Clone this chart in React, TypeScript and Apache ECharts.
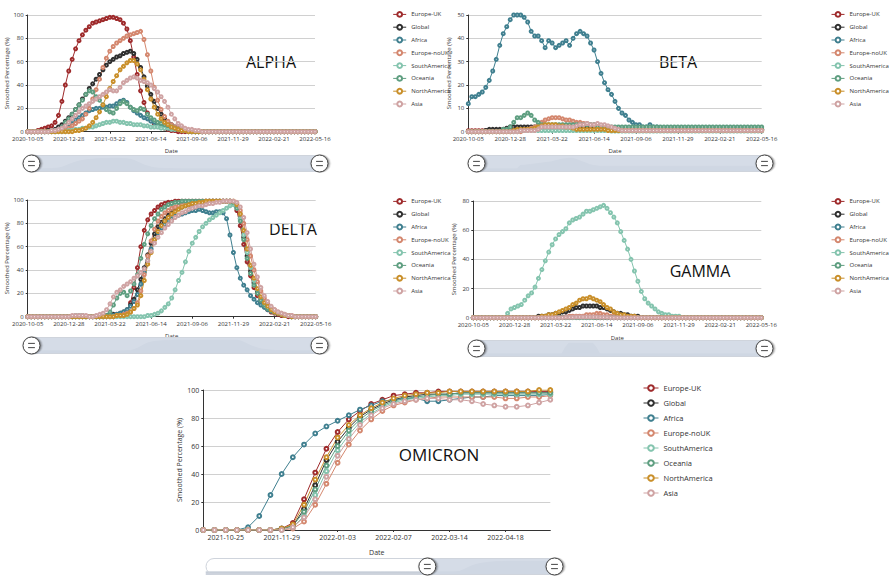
import React, { useEffect, useRef } from "react";
import * as echarts from "echarts";

const FONT = "'Open Sans', 'Noto Sans', sans-serif";

const regions = ["Europe-UK", "Global", "Africa", "Europe-noUK", "SouthAmerica", "Oceania", "NorthAmerica", "Asia"];
const regionColors = ["#9e2a2b", "#2f2f2f", "#3f7f8f", "#d4876e", "#84c4ae", "#5e9e80", "#c98f2a", "#cfa3a3"];

// weekly categories 2020-10-05 .. 2022-05-16
const dates: string[] = [];
for (let i = 0; i < 85; i++) {
  dates.push(new Date(Date.UTC(2020, 9, 5) + i * 7 * 86400000).toISOString().slice(0, 10));
}

// ---------------- ALPHA ----------------
const alphaEuropeUK = [
  0, 0, 0, 1, 2, 3, 4, 5, 8, 14,
  26, 40, 52, 62, 71, 78, 83, 87, 90, 93,
  94, 95, 96, 97, 98, 98, 97, 96, 93, 88,
  78, 64, 49, 35, 25, 16, 10, 7, 5, 4,
  3, 2, 1, 1, 0, 0, 0, 0, 0, 0,
  0, 0, 0, 0, 0, 0, 0, 0, 0, 0,
  0, 0, 0, 0, 0, 0, 0, 0, 0, 0,
  0, 0, 0, 0, 0, 0, 0, 0, 0, 0,
  0, 0, 0, 0, 0];
const alphaGlobal = [
  0, 0, 0, 0, 0, 0, 1, 1, 2, 4,
  6, 9, 12, 15, 19, 23, 28, 32, 37, 41,
  45, 49, 53, 57, 60, 62, 64, 65, 67, 68,
  69, 67, 62, 55, 47, 39, 32, 26, 20, 15,
  11, 8, 6, 4, 3, 2, 2, 1, 1, 0,
  0, 0, 0, 0, 0, 0, 0, 0, 0, 0,
  0, 0, 0, 0, 0, 0, 0, 0, 0, 0,
  0, 0, 0, 0, 0, 0, 0, 0, 0, 0,
  0, 0, 0, 0, 0];
const alphaAfrica = [
  0, 0, 0, 0, 0, 0, 0, 0, 0, 1,
  1, 2, 4, 7, 10, 12, 14, 16, 18, 19,
  20, 20, 21, 21, 22, 22, 24, 26, 27, 25,
  21, 18, 16, 14, 12, 11, 9, 8, 6, 5,
  4, 3, 3, 2, 2, 1, 1, 0, 0, 0,
  0, 0, 0, 0, 0, 0, 0, 0, 0, 0,
  0, 0, 0, 0, 0, 0, 0, 0, 0, 0,
  0, 0, 0, 0, 0, 0, 0, 0, 0, 0,
  0, 0, 0, 0, 0];
const alphaEuropeNoUK = [
  0, 0, 0, 0, 0, 0, 0, 0, 0, 1,
  1, 2, 3, 5, 7, 9, 11, 15, 20, 28,
  36, 45, 55, 63, 69, 73, 76, 78, 80, 82,
  83, 84, 85, 86, 79, 66, 52, 38, 27, 19,
  13, 9, 6, 4, 3, 2, 2, 1, 1, 0,
  0, 0, 0, 0, 0, 0, 0, 0, 0, 0,
  0, 0, 0, 0, 0, 0, 0, 0, 0, 0,
  0, 0, 0, 0, 0, 0, 0, 0, 0, 0,
  0, 0, 0, 0, 0];
const alphaSouthAmerica = [
  0, 0, 0, 0, 0, 0, 0, 0, 0, 0,
  0, 0, 1, 1, 2, 2, 3, 3, 4, 4,
  5, 6, 7, 8, 8, 9, 9, 8, 8, 7,
  7, 6, 6, 6, 5, 5, 4, 4, 4, 3,
  3, 3, 2, 2, 2, 1, 1, 1, 0, 0,
  0, 0, 0, 0, 0, 0, 0, 0, 0, 0,
  0, 0, 0, 0, 0, 0, 0, 0, 0, 0,
  0, 0, 0, 0, 0, 0, 0, 0, 0, 0,
  0, 0, 0, 0, 0];
const alphaOceania = [
  0, 0, 0, 0, 0, 0, 0, 1, 1, 2,
  4, 8, 11, 15, 19, 23, 27, 32, 35, 34,
  30, 27, 23, 19, 17, 16, 20, 24, 26, 24,
  21, 19, 18, 20, 19, 15, 12, 10, 8, 7,
  6, 5, 4, 3, 2, 2, 1, 1, 0, 0,
  0, 0, 0, 0, 0, 0, 0, 0, 0, 0,
  0, 0, 0, 0, 0, 0, 0, 0, 0, 0,
  0, 0, 0, 0, 0, 0, 0, 0, 0, 0,
  0, 0, 0, 0, 0];
const alphaNorthAmerica = [
  0, 0, 0, 0, 0, 0, 0, 0, 0, 0,
  0, 0, 0, 0, 1, 1, 2, 3, 5, 8,
  12, 17, 23, 30, 37, 43, 48, 53, 56, 59,
  61, 61, 58, 53, 45, 36, 28, 21, 15, 11,
  8, 6, 4, 3, 2, 1, 1, 0, 0, 0,
  0, 0, 0, 0, 0, 0, 0, 0, 0, 0,
  0, 0, 0, 0, 0, 0, 0, 0, 0, 0,
  0, 0, 0, 0, 0, 0, 0, 0, 0, 0,
  0, 0, 0, 0, 0];
const alphaAsia = [
  0, 0, 0, 0, 0, 0, 0, 1, 1, 2,
  3, 5, 8, 11, 14, 17, 20, 22, 24, 26,
  28, 30, 32, 34, 36, 35, 35, 38, 42, 44,
  46, 47, 46, 44, 43, 42, 40, 37, 34, 30,
  26, 21, 15, 11, 7, 5, 3, 2, 2, 1,
  1, 0, 0, 0, 0, 0, 0, 0, 0, 0,
  0, 0, 0, 0, 0, 0, 0, 0, 0, 0,
  0, 0, 0, 0, 0, 0, 0, 0, 0, 0,
  0, 0, 0, 0, 0];

// ---------------- BETA ----------------
const betaEuropeUK = [
  0.4, 0.4, 0.4, 0.4, 0.4, 0.4, 0.4, 0.4, 0.4, 0.4,
  0.4, 0.4, 0.4, 1.2, 1.2, 1.3, 1.4, 1.5, 1.6, 1.7,
  1.8, 1.9, 2, 2.2, 2.4, 2.6, 2.7, 2.8, 2.8, 2.6,
  2.3, 2, 1.7, 1.4, 1.2, 1.1, 1, 1, 1, 1,
  1, 1, 1, 1, 1, 1, 1, 1, 1, 1,
  1, 1, 1, 1, 1, 1, 1, 1, 1, 1,
  1, 1, 1, 1, 1, 1, 1, 1, 1, 1,
  1, 1, 1, 1, 1, 1, 1, 1, 1, 1,
  1, 1, 1, 1, 1];
const betaGlobal = [
  0, 0, 0, 0, 0, 0.5, 1, 1, 1, 1,
  1, 1.5, 2, 2, 2, 2, 2, 2, 2, 2,
  2, 2, 2, 2, 2, 2, 2, 2, 2, 2,
  2, 2, 2, 2, 2, 1.8, 1.6, 1.5, 1.4, 1.3,
  1.2, 1.1, 1, 1, 1, 1, 1, 1, 1, 1,
  1, 1, 1, 1, 1, 1, 1, 1, 1, 1,
  1, 1, 1, 1, 1, 1, 1, 1, 1, 1,
  1, 1, 1, 1, 1, 1, 1, 1, 1, 1,
  1, 1, 1, 1, 1];
const betaAfrica = [
  12, 15, 15, 16, 17, 19, 22, 26, 31, 37,
  42, 45, 48, 50, 50, 50, 49, 47, 43, 41,
  41, 39, 36, 39, 38, 36, 37, 38, 39, 37,
  40, 42, 43, 42, 41, 38, 35, 30, 25, 21,
  18, 16, 13, 10, 8, 7, 5, 4, 3, 3,
  2, 2, 3, 2, 2, 1, 1, 1, 1, 1,
  1, 1, 1, 1, 1, 1, 1, 1, 1, 1,
  1, 1, 1, 1, 1, 1, 1, 1, 1, 1,
  1, 1, 1, 1, 1];
const betaEuropeNoUK = [
  0, 0, 0, 0, 0, 0, 0, 0, 0, 0,
  0, 0, 0, 0, 0, 0, 0.5, 1, 1.5, 2,
  3, 4, 5, 5.5, 6, 6, 6, 5.5, 5, 5,
  4.5, 4, 4, 3.5, 3.5, 3, 3, 3, 2.5, 2,
  2, 1.5, 1, 1, 0.5, 0.5, 0.5, 0.5, 0.5, 0.5,
  0.5, 0.5, 0.5, 0.5, 0.5, 0.5, 0.5, 0.5, 0.5, 0.5,
  0.5, 0.5, 0.5, 0.5, 0.5, 0.5, 0.5, 0.5, 0.5, 0.5,
  0.5, 0.5, 0.5, 0.5, 0.5, 0.5, 0.5, 0.5, 0.5, 0.5,
  0.5, 0.5, 0.5, 0.5, 0.5];
const betaSouthAmerica = [
  0, 0, 0, 0, 0, 0, 0, 0, 0, 0,
  0, 0, 0, 0, 0, 0.5, 0.5, 0.5, 0.5, 0.5,
  0.5, 0.5, 0.5, 0.5, 0.5, 0.5, 0.5, 0.5, 0.5, 0.5,
  0.5, 0.5, 0.5, 0.5, 0.5, 0.5, 0.5, 0.5, 0.5, 0.5,
  0.5, 0.3, 0.3, 0.3, 0.3, 0.3, 0.3, 0.3, 0.3, 0.3,
  0.3, 0.3, 0.3, 0.3, 0.3, 0.3, 0.3, 0.3, 0.3, 0.3,
  0.3, 0.3, 0.3, 0.3, 0.3, 0.3, 0.3, 0.3, 0.3, 0.3,
  0.3, 0.3, 0.3, 0.3, 0.3, 0.3, 0.3, 0.3, 0.3, 0.3,
  0.3, 0.3, 0.3, 0.3, 0.3];
const betaOceania = [
  0, 0, 0, 0, 0, 0, 0, 0, 0, 0,
  1, 1, 2, 4, 6, 6, 7, 8, 7, 5,
  4, 3, 3, 3, 3, 3, 3, 3, 3, 3,
  3, 3, 3, 3, 3, 3, 3, 2, 2, 2,
  2, 2, 2, 2, 2, 2, 2, 2, 2, 2,
  2, 2, 2, 2, 2, 2, 2, 2, 2, 2,
  2, 2, 2, 2, 2, 2, 2, 2, 2, 2,
  2, 2, 2, 2, 2, 2, 2, 2, 2, 2,
  2, 2, 2, 2, 2];
const betaNorthAmerica = [
  0, 0, 0, 0, 0, 0, 0, 0, 0, 0,
  0, 0, 0, 0.5, 1, 1, 1, 1, 1, 1.5,
  2, 2.5, 3, 3, 3, 3, 2.5, 2.5, 2, 2,
  1.5, 1, 1, 1, 1, 1, 1, 1, 1, 1,
  0.5, 0.5, 0.5, 0.5, 0.5, 0.5, 0.5, 0.5, 0.5, 0.5,
  0.5, 0.5, 0.5, 0.5, 0.5, 0.5, 0.5, 0.5, 0.5, 0.5,
  0.5, 0.5, 0.5, 0.5, 0.5, 0.5, 0.5, 0.5, 0.5, 0.5,
  0.5, 0.5, 0.5, 0.5, 0.5, 0.5, 0.5, 0.5, 0.5, 0.5,
  0.5, 0.5, 0.5, 0.5, 0.5];
const betaAsia = [
  0, 0, 0, 0, 0, 0, 0, 0, 0, 0,
  0, 0, 0, 0, 0, 0.5, 0.5, 0.5, 0.5, 0.5,
  1, 2, 2, 2, 2, 2, 2, 2, 2, 2,
  2, 2.5, 3, 3, 3.5, 3, 3, 3.5, 3, 3,
  2.5, 2, 1.5, 1, 0.5, 0.5, 0.5, 0.5, 0.5, 0.5,
  0.5, 0.5, 0.5, 0.5, 0.5, 0.5, 0.5, 0.5, 0.5, 0.5,
  0.5, 0.5, 0.5, 0.5, 0.5, 0.5, 0.5, 0.5, 0.5, 0.5,
  0.5, 0.5, 0.5, 0.5, 0.5, 0.5, 0.5, 0.5, 0.5, 0.5,
  0.5, 0.5, 0.5, 0.5, 0.5];

// ---------------- DELTA ----------------
const deltaEuropeUK = [
  0, 0, 0, 0, 0, 0, 0, 0, 0, 0,
  0, 0, 0, 0, 0, 0, 0, 0, 0, 0,
  0, 0, 0, 0, 0, 0, 1, 1, 2, 4,
  12, 25, 42, 60, 74, 83, 88, 91, 94, 96,
  97, 98, 98, 99, 99, 99, 99, 99, 99, 99,
  99, 99, 99, 99, 99, 99, 99, 99, 99, 99,
  98, 91, 78, 62, 47, 35, 25, 18, 13, 9,
  6, 4, 3, 2, 1, 1, 0, 0, 0, 0,
  0, 0, 0, 0, 0];
const deltaGlobal = [
  0, 0, 0, 0, 0, 0, 0, 0, 0, 0,
  0, 0, 0, 0, 0, 0, 0, 0, 0, 0,
  0, 0, 1, 1, 1, 2, 2, 3, 4, 6,
  10, 15, 23, 32, 42, 53, 63, 71, 77, 81,
  84, 87, 89, 91, 93, 94, 95, 96, 97, 97,
  98, 98, 98, 99, 99, 99, 99, 99, 99, 99,
  98, 94, 84, 68, 52, 39, 29, 21, 15, 11,
  8, 6, 4, 3, 2, 1, 1, 0, 0, 0,
  0, 0, 0, 0, 0];
const deltaAfrica = [
  0, 0, 0, 0, 0, 0, 0, 0, 0, 0,
  0, 0, 0, 0, 0, 0, 0, 0, 0, 0,
  0, 0, 0, 0, 1, 1, 2, 3, 4, 6,
  9, 13, 19, 28, 38, 48, 58, 66, 72, 76,
  79, 82, 84, 86, 87, 88, 89, 90, 91, 91,
  92, 91, 90, 89, 89, 90, 90, 89, 84, 70,
  55, 42, 33, 27, 23, 18, 15, 12, 10, 8,
  6, 5, 4, 3, 2, 1, 1, 0, 0, 0,
  0, 0, 0, 0, 0];
const deltaEuropeNoUK = [
  0, 0, 0, 0, 0, 0, 0, 0, 0, 0,
  0, 0, 0, 0, 0, 0, 0, 0, 0, 0,
  0, 0, 0, 0, 0, 0, 1, 1, 2, 3,
  4, 7, 12, 22, 36, 52, 65, 75, 82, 86,
  89, 91, 93, 94, 95, 96, 97, 97, 98, 98,
  98, 99, 99, 99, 99, 99, 99, 99, 99, 99,
  99, 97, 91, 80, 66, 52, 40, 30, 22, 16,
  11, 8, 6, 4, 3, 2, 1, 1, 0, 0,
  0, 0, 0, 0, 0];
const deltaSouthAmerica = [
  0, 0, 0, 0, 0, 0, 0, 0, 0, 0,
  0, 0, 0, 0, 0, 0, 0, 0, 0, 0,
  0, 0, 0, 0, 0, 0, 0, 0, 0, 0,
  0, 0, 0, 0, 0, 1, 1, 2, 3, 5,
  8, 11, 16, 23, 31, 38, 47, 56, 63, 68,
  73, 77, 80, 83, 85, 87, 89, 91, 93, 95,
  96, 93, 84, 70, 55, 42, 31, 23, 16, 11,
  8, 6, 4, 3, 2, 1, 1, 0, 0, 0,
  0, 0, 0, 0, 0];
const deltaOceania = [
  0, 0, 0, 0, 0, 0, 0, 0, 0, 0,
  0, 0, 0, 0, 1, 1, 1, 0, 0, 0,
  0, 0, 0, 1, 4, 10, 16, 20, 21, 18,
  22, 28, 36, 50, 62, 71, 78, 84, 88, 92,
  94, 96, 97, 98, 98, 99, 99, 99, 99, 99,
  99, 99, 99, 99, 99, 99, 99, 99, 99, 99,
  98, 93, 82, 66, 50, 37, 27, 20, 14, 10,
  7, 5, 4, 3, 2, 1, 1, 0, 0, 0,
  0, 0, 0, 0, 0];
const deltaNorthAmerica = [
  0, 0, 0, 0, 0, 0, 0, 0, 0, 0,
  0, 0, 0, 0, 0, 0, 0, 0, 0, 0,
  0, 0, 0, 0, 0, 0, 1, 1, 1, 2,
  4, 7, 10, 18, 31, 45, 55, 66, 73, 78,
  82, 85, 88, 90, 92, 94, 95, 96, 97, 97,
  98, 98, 99, 99, 99, 99, 99, 99, 99, 99,
  99, 96, 88, 74, 58, 44, 33, 24, 17, 12,
  9, 6, 4, 3, 2, 1, 1, 0, 0, 0,
  0, 0, 0, 0, 0];
const deltaAsia = [
  0, 0, 0, 0, 0, 0, 0, 0, 0, 0,
  0, 0, 0, 1, 1, 1, 1, 1, 0, 0,
  1, 2, 3, 6, 11, 17, 21, 23, 26, 28,
  30, 33, 35, 38, 41, 48, 56, 63, 68, 72,
  76, 79, 82, 85, 87, 89, 90, 92, 93, 94,
  95, 95, 96, 97, 97, 98, 98, 99, 99, 99,
  99, 98, 94, 85, 72, 58, 45, 34, 25, 18,
  13, 9, 6, 4, 3, 2, 1, 1, 0, 0,
  0, 0, 0, 0, 0];

// ---------------- GAMMA ----------------
const gammaEuropeUK = [
  0, 0, 0, 0, 0, 0, 0, 0, 0, 0,
  0, 0, 0, 0, 0, 0, 0, 0, 0, 0,
  0, 0, 0, 0, 0, 0, 0.3, 0.5, 0.5, 0.5,
  0.5, 0.5, 0.5, 0.5, 0.5, 0.3, 0, 0, 0, 0,
  0, 0, 0, 0, 0, 0, 0, 0, 0, 0,
  0, 0, 0, 0, 0, 0, 0, 0, 0, 0,
  0, 0, 0, 0, 0, 0, 0, 0, 0, 0,
  0, 0, 0, 0, 0, 0, 0, 0, 0, 0,
  0, 0, 0, 0, 0];
const gammaGlobal = [
  0, 0, 0, 0, 0, 0, 0, 0, 0, 0,
  0, 0, 0, 0, 0, 0, 0, 0, 0, 1,
  1, 1, 2, 2, 3, 3, 4, 4, 5, 6,
  7, 7, 8, 8, 8, 8, 8, 7, 7, 6,
  5, 4, 3, 3, 2, 2, 1, 1, 1, 0,
  0, 0, 0, 0, 0, 0, 0, 0, 0, 0,
  0, 0, 0, 0, 0, 0, 0, 0, 0, 0,
  0, 0, 0, 0, 0, 0, 0, 0, 0, 0,
  0, 0, 0, 0, 0];
const gammaAfrica = [
  0, 0, 0, 0, 0, 0, 0, 0, 0, 0,
  0, 0, 0, 0, 0, 0, 0, 0, 0, 0,
  0, 0, 0, 0, 0, 0, 0.3, 0.3, 0.5, 0.5,
  0.5, 0.5, 0.5, 0.5, 0.5, 0.5, 0.5, 0.5, 0.3, 0.3,
  0, 0, 0, 0, 0, 0, 0, 0, 0, 0,
  0, 0, 0, 0, 0, 0, 0, 0, 0, 0,
  0, 0, 0, 0, 0, 0, 0, 0, 0, 0,
  0, 0, 0, 0, 0, 0, 0, 0, 0, 0,
  0, 0, 0, 0, 0];
const gammaEuropeNoUK = [
  0, 0, 0, 0, 0, 0, 0, 0, 0, 0,
  0, 0, 0, 0, 0, 0, 0, 0, 0, 0,
  0, 0, 0, 0, 0, 0, 0, 0, 1, 1,
  1, 1, 1, 2, 2, 2, 3, 3, 2, 2,
  1, 1, 0, 0, 0, 0, 0, 0, 0, 0,
  0, 0, 0, 0, 0, 0, 0, 0, 0, 0,
  0, 0, 0, 0, 0, 0, 0, 0, 0, 0,
  0, 0, 0, 0, 0, 0, 0, 0, 0, 0,
  0, 0, 0, 0, 0];
const gammaSouthAmerica = [
  0, 0, 0, 0, 0, 0, 0, 0, 0, 0,
  3, 6, 7, 8, 9, 12, 15, 17, 21, 27,
  33, 39, 45, 50, 54, 57, 59, 61, 65, 67,
  68, 69, 71, 73, 73, 74, 75, 76, 77, 75,
  72, 69, 65, 59, 53, 47, 40, 32, 25, 18,
  13, 10, 8, 6, 4, 3, 2, 2, 1, 1,
  1, 0, 0, 0, 0, 0, 0, 0, 0, 0,
  0, 0, 0, 0, 0, 0, 0, 0, 0, 0,
  0, 0, 0, 0, 0];
const gammaOceania = [
  0, 0, 0, 0, 0, 0, 0, 0, 0, 0,
  0, 0, 0, 0, 0, 0, 0, 0, 0, 0,
  0, 0, 0, 0, 0, 0, 0, 0, 0, 0,
  0, 0, 0, 0, 0, 0, 0, 0, 0, 0,
  0, 0, 0, 0, 0, 0, 0, 0, 0, 0,
  0, 0, 0, 0, 0, 0, 0, 0, 0, 0,
  0, 0, 0, 0, 0, 0, 0, 0, 0, 0,
  0, 0, 0, 0, 0, 0, 0, 0, 0, 0,
  0, 0, 0, 0, 0];
const gammaNorthAmerica = [
  0, 0, 0, 0, 0, 0, 0, 0, 0, 0,
  0, 0, 0, 0, 0, 0, 0, 0, 0, 0,
  1, 1, 2, 2, 3, 4, 5, 6, 7, 9,
  10, 12, 13, 13, 14, 13, 12, 11, 9, 7,
  6, 4, 3, 2, 2, 1, 1, 1, 0, 0,
  0, 0, 0, 0, 0, 0, 0, 0, 0, 0,
  0, 0, 0, 0, 0, 0, 0, 0, 0, 0,
  0, 0, 0, 0, 0, 0, 0, 0, 0, 0,
  0, 0, 0, 0, 0];
const gammaAsia = [
  0, 0, 0, 0, 0, 0, 0, 0, 0, 0,
  0, 0, 0, 0, 0, 0, 0, 0, 0, 0,
  0, 0, 0, 0, 0, 0, 0, 0.3, 0.3, 0.3,
  0.5, 0.5, 0.5, 0.5, 0.5, 0.5, 0.5, 0.3, 0.3, 0.3,
  0, 0, 0, 0, 0, 0, 0, 0, 0, 0,
  0, 0, 0, 0, 0, 0, 0, 0, 0, 0,
  0, 0, 0, 0, 0, 0, 0, 0, 0, 0,
  0, 0, 0, 0, 0, 0, 0, 0, 0, 0,
  0, 0, 0, 0, 0];

// ---------------- OMICRON ----------------
const omicronEuropeUK = [
  0, 0, 0, 0, 0, 0, 0, 0, 0, 0,
  0, 0, 0, 0, 0, 0, 0, 0, 0, 0,
  0, 0, 0, 0, 0, 0, 0, 0, 0, 0,
  0, 0, 0, 0, 0, 0, 0, 0, 0, 0,
  0, 0, 0, 0, 0, 0, 0, 0, 0, 0,
  0, 0, 0, 0, 0, 0, 0, 0, 0, 0,
  1, 5, 22, 41, 58, 70, 79, 85, 90, 93,
  96, 97, 98, 98, 99, 99, 99, 99, 99, 99,
  99, 99, 99, 99, 99];
const omicronGlobal = [
  0, 0, 0, 0, 0, 0, 0, 0, 0, 0,
  0, 0, 0, 0, 0, 0, 0, 0, 0, 0,
  0, 0, 0, 0, 0, 0, 0, 0, 0, 0,
  0, 0, 0, 0, 0, 0, 0, 0, 0, 0,
  0, 0, 0, 0, 0, 0, 0, 0, 0, 0,
  0, 0, 0, 0, 0, 0, 0, 0, 0, 0,
  1, 3, 15, 32, 50, 63, 73, 81, 86, 90,
  93, 95, 96, 97, 97, 97, 98, 98, 98, 98,
  98, 98, 98, 98, 98];
const omicronAfrica = [
  0, 0, 0, 0, 0, 0, 0, 0, 0, 0,
  0, 0, 0, 0, 0, 0, 0, 0, 0, 0,
  0, 0, 0, 0, 0, 0, 0, 0, 0, 0,
  0, 0, 0, 0, 0, 0, 0, 0, 0, 0,
  0, 0, 0, 0, 0, 0, 0, 0, 0, 0,
  0, 0, 0, 0, 0, 0, 0, 2, 10, 25,
  40, 52, 61, 69, 74, 78, 82, 86, 89, 92,
  93, 94, 94, 92, 92, 93, 94, 95, 95, 96,
  96, 96, 96, 96, 97];
const omicronEuropeNoUK = [
  0, 0, 0, 0, 0, 0, 0, 0, 0, 0,
  0, 0, 0, 0, 0, 0, 0, 0, 0, 0,
  0, 0, 0, 0, 0, 0, 0, 0, 0, 0,
  0, 0, 0, 0, 0, 0, 0, 0, 0, 0,
  0, 0, 0, 0, 0, 0, 0, 0, 0, 0,
  0, 0, 0, 0, 0, 0, 0, 0, 0, 0,
  0, 1, 6, 18, 33, 48, 61, 71, 79, 85,
  89, 91, 93, 94, 95, 95, 95, 95, 95, 95,
  94, 94, 95, 95, 96];
const omicronSouthAmerica = [
  0, 0, 0, 0, 0, 0, 0, 0, 0, 0,
  0, 0, 0, 0, 0, 0, 0, 0, 0, 0,
  0, 0, 0, 0, 0, 0, 0, 0, 0, 0,
  0, 0, 0, 0, 0, 0, 0, 0, 0, 0,
  0, 0, 0, 0, 0, 0, 0, 0, 0, 0,
  0, 0, 0, 0, 0, 0, 0, 0, 0, 0,
  0, 2, 10, 25, 42, 57, 68, 77, 83, 88,
  91, 93, 94, 95, 96, 96, 97, 97, 97, 97,
  97, 97, 97, 97, 97];
const omicronOceania = [
  0, 0, 0, 0, 0, 0, 0, 0, 0, 0,
  0, 0, 0, 0, 0, 0, 0, 0, 0, 0,
  0, 0, 0, 0, 0, 0, 0, 0, 0, 0,
  0, 0, 0, 0, 0, 0, 0, 0, 0, 0,
  0, 0, 0, 0, 0, 0, 0, 0, 0, 0,
  0, 0, 0, 0, 0, 0, 0, 0, 0, 0,
  1, 3, 13, 29, 46, 60, 71, 79, 85, 89,
  92, 94, 95, 96, 97, 97, 98, 98, 98, 98,
  98, 98, 98, 98, 98];
const omicronNorthAmerica = [
  0, 0, 0, 0, 0, 0, 0, 0, 0, 0,
  0, 0, 0, 0, 0, 0, 0, 0, 0, 0,
  0, 0, 0, 0, 0, 0, 0, 0, 0, 0,
  0, 0, 0, 0, 0, 0, 0, 0, 0, 0,
  0, 0, 0, 0, 0, 0, 0, 0, 0, 0,
  0, 0, 0, 0, 0, 0, 0, 0, 0, 0,
  1, 4, 18, 36, 52, 66, 75, 82, 87, 91,
  94, 96, 97, 98, 98, 99, 99, 99, 99, 99,
  99, 99, 99, 100, 100];
const omicronAsia = [
  0, 0, 0, 0, 0, 0, 0, 0, 0, 0,
  0, 0, 0, 0, 0, 0, 0, 0, 0, 0,
  0, 0, 0, 0, 0, 0, 0, 0, 0, 0,
  0, 0, 0, 0, 0, 0, 0, 0, 0, 0,
  0, 0, 0, 0, 0, 0, 0, 0, 0, 0,
  0, 0, 0, 0, 0, 0, 0, 0, 0, 0,
  0, 2, 9, 22, 38, 53, 65, 75, 82, 87,
  90, 92, 93, 94, 94, 93, 93, 92, 90, 89,
  88, 88, 89, 91, 93];

const variantNames = ["ALPHA", "BETA", "DELTA", "GAMMA", "OMICRON"];
const variantSeries = [
  [alphaEuropeUK, alphaGlobal, alphaAfrica, alphaEuropeNoUK, alphaSouthAmerica, alphaOceania, alphaNorthAmerica, alphaAsia],
  [betaEuropeUK, betaGlobal, betaAfrica, betaEuropeNoUK, betaSouthAmerica, betaOceania, betaNorthAmerica, betaAsia],
  [deltaEuropeUK, deltaGlobal, deltaAfrica, deltaEuropeNoUK, deltaSouthAmerica, deltaOceania, deltaNorthAmerica, deltaAsia],
  [gammaEuropeUK, gammaGlobal, gammaAfrica, gammaEuropeNoUK, gammaSouthAmerica, gammaOceania, gammaNorthAmerica, gammaAsia],
  [omicronEuropeUK, omicronGlobal, omicronAfrica, omicronEuropeNoUK, omicronSouthAmerica, omicronOceania, omicronNorthAmerica, omicronAsia],
];
const yMaxima = [100, 50, 100, 80, 100];
const yIntervals = [20, 10, 20, 20, 20];
const zoomStartIndex = [0, 0, 0, 0, 53];

// layout (pixels)
const layouts = [
  { gx: 27.7, gy: 15, gw: 287.3, gh: 116.7, li: 11, ts: 6, xm: 4, dg: 16, ns: 6, yg: 16, lx: 392.7, ly: 11, liw: 13, lih: 6, lgap: 6.0, lfs: 6, tx: 271, ty: 62, tfs: 16, sx: 28, sy: 155, sw: 290, sh: 17, sym: 3, bw: 0.5 },
  { gx: 468.3, gy: 15, gw: 293.4, gh: 116.7, li: 11, ts: 6, xm: 4, dg: 16, ns: 6, yg: 16, lx: 831, ly: 11, liw: 13, lih: 6, lgap: 6.0, lfs: 6, tx: 678, ty: 62, tfs: 16, sx: 473, sy: 155, sw: 290, sh: 17, sym: 3, bw: 0.5 },
  { gx: 27.7, gy: 200, gw: 288, gh: 116.7, li: 11, ts: 6, xm: 4, dg: 16, ns: 6, yg: 16, lx: 392.7, ly: 198, liw: 13, lih: 6, lgap: 6.0, lfs: 6, tx: 293, ty: 229, tfs: 16, sx: 28, sy: 337, sw: 290, sh: 17, sym: 3, bw: 0.5 },
  { gx: 473.3, gy: 201, gw: 288, gh: 116.7, li: 11, ts: 6, xm: 4, dg: 17, ns: 6, yg: 16, lx: 831, ly: 198, liw: 13, lih: 6, lgap: 6.0, lfs: 6, tx: 700, ty: 271, tfs: 16, sx: 473, sy: 340, sw: 290, sh: 17, sym: 3, bw: 0.5 },
  { gx: 203.3, gy: 390, gw: 347, gh: 140, li: 4, ts: 7, xm: 4, dg: 19, ns: 7, yg: 20, lx: 643, ly: 384, liw: 15, lih: 7, lgap: 7.0, lfs: 7.5, tx: 439, ty: 454, tfs: 17, sx: 203, sy: 558, sw: 350, sh: 17, sym: 3.8, bw: 0.8 },
];

const HANDLE = "path://M10,0A10,10,0,1,1,-10,0A10,10,0,1,1,10,0Z M-4,-2.5L4,-2.5 M-4,2.5L4,2.5";

function buildOption() {
  const grid: any[] = [];
  const xAxis: any[] = [];
  const yAxis: any[] = [];
  const legend: any[] = [];
  const dataZoom: any[] = [];
  const graphic: any[] = [];
  const series: any[] = [];
  variantNames.forEach((vname, k) => {
    const L = layouts[k];
    grid.push({ left: L.gx, top: L.gy, width: L.gw, height: L.gh, containLabel: false, outerBoundsMode: "none" });
    xAxis.push({
      type: "category", gridIndex: k, data: dates, boundaryGap: false,
      name: "Date", nameLocation: "middle", nameGap: L.dg,
      nameTextStyle: { fontSize: L.ns, color: "#333", fontFamily: FONT },
      axisLine: { show: true, lineStyle: { color: "#333", width: 1 } },
      axisTick: { show: true, length: 2, lineStyle: { color: "#333" } },
      axisLabel: { interval: L.li, fontSize: L.ts, color: "#333", margin: L.xm, fontFamily: FONT },
      splitLine: { show: false },
    });
    yAxis.push({
      type: "value", gridIndex: k, min: 0, max: yMaxima[k], interval: yIntervals[k],
      name: "Smoothed Percentage (%)", nameLocation: "middle", nameGap: L.yg, nameRotate: 90,
      nameTextStyle: { fontSize: L.ns, color: "#333", fontFamily: FONT },
      axisLine: { show: true, lineStyle: { color: "#333", width: 1 } },
      axisTick: { show: true, length: 2, lineStyle: { color: "#333" } },
      axisLabel: { fontSize: L.ts, color: "#333", margin: 4, fontFamily: FONT },
      splitLine: { show: true, lineStyle: { color: "#d0d0d0", width: 1 } },
    });
    legend.push({
      orient: "vertical", left: L.lx, top: L.ly, padding: 0,
      itemWidth: L.liw, itemHeight: L.lih, itemGap: L.lgap,
      data: regions, selectedMode: false,
      itemStyle: { borderWidth: 1 },
      lineStyle: { width: 1 },
      textStyle: { fontSize: L.lfs, color: "#333", fontFamily: FONT },
    });
    dataZoom.push({
      type: "slider", xAxisIndex: k, left: L.sx, top: L.sy, width: L.sw, height: L.sh,
      startValue: zoomStartIndex[k], endValue: 84,
      showDetail: false, brushSelect: false, moveHandleSize: 0,
      backgroundColor: "#ffffff", borderColor: "#cfd4dc", borderRadius: 8,
      fillerColor: "rgba(208,216,228,0.9)",
      dataBackground: { lineStyle: { color: "#b7bfcb", width: 0.6 }, areaStyle: { color: "#c6cdd8", opacity: 0.9 } },
      selectedDataBackground: { lineStyle: { color: "#b0b8c5", width: 0.6 }, areaStyle: { color: "#bec6d3", opacity: 0.9 } },
      handleIcon: HANDLE, handleSize: "100%",
      handleStyle: { color: "#ffffff", borderColor: "#444", borderWidth: 1, shadowBlur: 2, shadowColor: "rgba(0,0,0,0.5)", shadowOffsetX: 1 },
    });
    graphic.push({
      type: "text", x: L.tx, y: L.ty, silent: true,
      style: { text: vname, fontSize: L.tfs, fontFamily: FONT, fill: "#111", align: "center", verticalAlign: "middle" },
    });
    variantSeries[k].forEach((data, r) => {
      series.push({
        type: "line", name: regions[r], xAxisIndex: k, yAxisIndex: k, data,
        symbol: "emptyCircle", symbolSize: L.sym, showSymbol: true, showAllSymbol: true,
        lineStyle: { width: 1, color: regionColors[r] },
        itemStyle: { color: regionColors[r], borderWidth: L.bw },
        emphasis: { disabled: true }, silent: true,
      });
    });
  });
  return { animation: false, backgroundColor: "#ffffff", textStyle: { fontFamily: FONT }, grid, xAxis, yAxis, legend, dataZoom, graphic, series };
}

export default function App() {
  const ref = useRef<HTMLDivElement>(null);
  useEffect(() => {
    const chart = echarts.init(ref.current!, undefined, { renderer: "svg" });
    chart.setOption(buildOption() as any);
    return () => chart.dispose();
  }, []);
  return <div ref={ref} style={{ position: "fixed", left: 0, top: 0, width: 892, height: 576, background: "#fff" }} />;
}
